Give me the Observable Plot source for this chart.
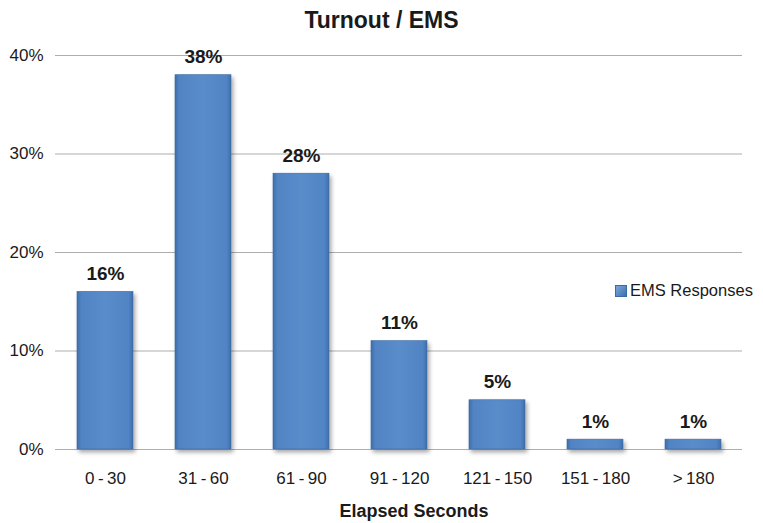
<!DOCTYPE html>
<html>
<head>
<meta charset="utf-8">
<script src="https://cdn.jsdelivr.net/npm/d3@7"></script>
<script src="https://cdn.jsdelivr.net/npm/@observablehq/plot@0.6"></script>
<style>
  html, body { margin: 0; padding: 0; background: #fff; }
  body { width: 763px; height: 523px; position: relative; overflow: hidden;
         font-family: "Liberation Sans", Arial, Helvetica, sans-serif; }
  #title { height: 40px; line-height: 40px; text-align: center; font-weight: bold;
           font-size: 23px; color: #1a1a1a; padding-left: 0; box-sizing: border-box; }
  #legend { position: absolute; left: 615px; top: 281px; font-size: 16.5px; color: #1a1a1a;
            display: flex; align-items: center; white-space: nowrap; }
  #legend .sw { width: 10px; height: 10px; margin-right: 3px; border: 0.5px solid #3b6aa3;
                background: linear-gradient(135deg, #7aa6dc, #3f71b0); }
</style>
</head>
<body>
<div id="title">Turnout / EMS</div>
<div id="chart"></div>
<div id="legend"><span class="sw"></span><span>EMS Responses</span></div>
<script>
// Share of EMS turnouts by elapsed-time bucket
const categories = ["0\u2009-\u200930", "31\u2009-\u200960", "61\u2009-\u200990", "91\u2009-\u2009120",
                    "121\u2009-\u2009150", "151\u2009-\u2009180", ">\u2009180"];
const shares = [16, 38, 28, 11, 5, 1, 1];           // percent
const yTicks = [0, 10, 20, 30, 40];

const data = categories.map((c, i) => ({category: c, share: shares[i]}));

const chart = Plot.plot({
  width: 763,
  height: 483,
  marginTop: 15,
  marginBottom: 74,
  marginLeft: 55,
  marginRight: 21,
  style: {fontFamily: "Liberation Sans, Arial, sans-serif", fontSize: "17px", color: "#1a1a1a", background: "#fff"},
  x: {domain: categories, paddingInner: 0.43, paddingOuter: 0.215, label: null},
  y: {domain: [0, 40], ticks: yTicks, label: null},
  marks: [
    Plot.gridY(yTicks, {stroke: "#adadad", strokeOpacity: 1, strokeWidth: 1}),
    Plot.ruleX([0], {frameAnchor: "left", stroke: "#adadad", strokeWidth: 1, y1: 0, y2: 40}),
    Plot.axisY(yTicks, {tickSize: 0, tickPadding: 12, fontSize: 17, tickFormat: d => d + "%"}),
    Plot.axisX({tickSize: 0, tickPadding: 22, fontSize: 17, label: null}),
    Plot.barY(data, {x: "category", y: "share", fill: "url(#barFill)", stroke: "#3d6aa2",
                     strokeWidth: 0.6, className: "bars"}),
    Plot.text(data, {x: "category", y: "share", text: d => d.share + "%", dy: -18,
                     fontWeight: "bold", fontSize: 19, fill: "#1a1a1a"}),
    Plot.text(["Elapsed Seconds"], {frameAnchor: "bottom", dy: 67, dx: 15, fontWeight: "bold",
                     fontSize: 18, fill: "#1a1a1a"})
  ]
});

// Bevelled bar fill and soft drop shadow
const ns = "http://www.w3.org/2000/svg";
const defs = document.createElementNS(ns, "defs");
defs.innerHTML = `
  <linearGradient id="barFill" x1="0" y1="0" x2="1" y2="0">
    <stop offset="0" stop-color="#3e6eab"/>
    <stop offset="0.08" stop-color="#5184c4"/>
    <stop offset="0.5" stop-color="#5a8cca"/>
    <stop offset="0.92" stop-color="#5184c4"/>
    <stop offset="1" stop-color="#3e6eab"/>
  </linearGradient>
  <filter id="barShadow" x="-20%" y="-20%" width="150%" height="150%">
    <feGaussianBlur in="SourceAlpha" stdDeviation="2"/>
    <feOffset dx="2" dy="3" result="off"/>
    <feComponentTransfer><feFuncA type="linear" slope="0.35"/></feComponentTransfer>
    <feMerge><feMergeNode/><feMergeNode in="SourceGraphic"/></feMerge>
  </filter>`;
chart.insertBefore(defs, chart.firstChild);
const bars = chart.querySelector("g.bars") || chart.querySelector("g[aria-label='bar']");
if (bars) bars.setAttribute("filter", "url(#barShadow)");

document.getElementById("chart").appendChild(chart);
</script>
</body>
</html>
